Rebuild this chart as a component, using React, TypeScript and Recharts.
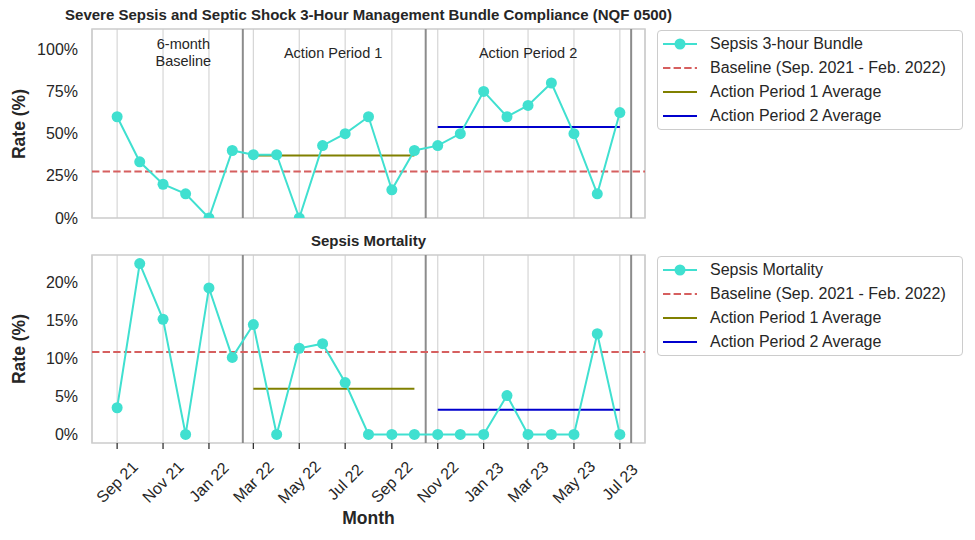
import React from "react";
import {
  LineChart,
  Line,
  XAxis,
  YAxis,
  CartesianGrid,
  ReferenceLine,
  ReferenceArea,
  ReferenceDot,
} from "recharts";

// monthly data, Sep 2021 - Jul 2023
const months = [
  "2021-09", "2021-10", "2021-11", "2021-12", "2022-01", "2022-02",
  "2022-03", "2022-04", "2022-05", "2022-06", "2022-07", "2022-08",
  "2022-09", "2022-10", "2022-11", "2022-12", "2023-01", "2023-02",
  "2023-03", "2023-04", "2023-05", "2023-06", "2023-07",
];
const tickMonths = [
  "2021-09", "2021-11", "2022-01", "2022-03", "2022-05", "2022-07",
  "2022-09", "2022-11", "2023-01", "2023-03", "2023-05", "2023-07",
];
const monthNames = ["Jan", "Feb", "Mar", "Apr", "May", "Jun", "Jul", "Aug", "Sep", "Oct", "Nov", "Dec"];

const bundleRates = [
  60, 33.3, 20, 14.3, 0, 40, 37.5, 37.5, 0, 42.9, 50, 60,
  16.7, 40, 42.9, 50, 75, 60, 66.7, 80, 50, 14.3, 62.5,
];
const mortalityRates = [
  3.5, 22.4, 15.1, 0, 19.2, 10.1, 14.4, 0, 11.3, 11.9, 6.8, 0,
  0, 0, 0, 0, 0, 5.1, 0, 0, 0, 13.2, 0,
];

// period averages
const bundleBaseline = 27.5;
const bundleAp1Avg = 37;
const bundleAp2Avg = 54;
const mortalityBaseline = 10.8;
const mortalityAp1Avg = 6.0;
const mortalityAp2Avg = 3.25;

const ap1Range = ["2022-03", "2022-10"];
const ap2Range = ["2022-11", "2023-07"];
const periodBreaks = ["2022-02-15", "2022-10-16", "2023-07-16"];
const periodLabelDates = ["2021-11-28", "2022-06-15", "2023-03-01"];
const periodLabelTexts = [["6-month", "Baseline"], ["Action Period 1"], ["Action Period 2"]];

const bundleTicks = [0, 25, 50, 75, 100];
const mortalityTicks = [0, 5, 10, 15, 20];

const legendLabels = [
  "Baseline (Sep. 2021 - Feb. 2022)",
  "Action Period 1 Average",
  "Action Period 2 Average",
];

const TURQ = "#40e0d0";
const RED = "#d65f5f";
const OLIVE = "#808000";
const BLUE = "#0000cd";
const TEXT = "#262626";
const FONT = '"Liberation Sans", Arial, sans-serif';

const toTime = (s: string) => {
  const [y, m, d] = s.split("-").map(Number);
  return Date.UTC(y, m - 1, d || 1);
};
const fmtMonth = (t: number) => {
  const d = new Date(t);
  return `${monthNames[d.getUTCMonth()]} ${String(d.getUTCFullYear()).slice(2)}`;
};

const tStart = toTime(months[0]);
const tEnd = toTime(months[months.length - 1]);
const tPad = (tEnd - tStart) * 0.05;
const xDomain = [tStart - tPad, tEnd + tPad];
const xTicks = tickMonths.map(toTime);

const bundleData = months.map((m, i) => ({ t: toTime(m), value: bundleRates[i] }));
const mortalityData = months.map((m, i) => ({ t: toTime(m), value: mortalityRates[i] }));

const mortMax = Math.max(...mortalityRates);
const bundleDomain = [0, 112];
const mortalityDomain = [-mortMax * 0.05, mortMax * 1.05];

const MonthTick = (props: any) => {
  const { x, y, payload } = props;
  const cy = y + 31;
  return (
    <text
      x={x}
      y={cy}
      textAnchor="middle"
      dominantBaseline="central"
      transform={`rotate(-45, ${x}, ${cy})`}
      fill={TEXT}
      fontSize={16}
      fontFamily={FONT}
    >
      {fmtMonth(payload.value)}
    </text>
  );
};

const NoTick = () => <g />;

interface PanelProps {
  data: { t: number; value: number }[];
  domain: number[];
  yTicks: number[];
  baseline: number;
  ap1: number;
  ap2: number;
  showLabels: boolean;
  showXAxis: boolean;
  height: number;
  top: number;
  marginTop: number;
  marginBottom: number;
}

function Panel(p: PanelProps) {
  return (
    <LineChart
      width={975}
      height={p.height}
      data={p.data}
      margin={{ top: p.marginTop, right: 330, bottom: p.marginBottom, left: 32 }}
      style={{ position: "absolute", left: 0, top: p.top }}
    >
      <CartesianGrid horizontal={false} stroke="#d6d6d6" strokeWidth={1.2} />
      <XAxis
        dataKey="t"
        type="number"
        scale="time"
        domain={xDomain}
        ticks={xTicks}
        allowDataOverflow
        axisLine={false}
        height={p.showXAxis ? 97 : 0}
        tick={p.showXAxis ? <MonthTick /> : <NoTick />}
        tickLine={p.showXAxis ? { stroke: "#333", strokeWidth: 1.3 } : false}
        tickSize={6}
        interval={0}
      />
      <YAxis
        type="number"
        domain={p.domain}
        ticks={p.yTicks}
        allowDataOverflow
        width={60}
        axisLine={false}
        tickLine={false}
        tickSize={0}
        tickMargin={14}
        tickFormatter={(v) => `${v}%`}
        tick={{ fill: TEXT, fontSize: 16, fontFamily: FONT }}
      />
      <ReferenceArea
        x1={xDomain[0]}
        x2={xDomain[1]}
        y1={p.domain[0]}
        y2={p.domain[1]}
        fill="none"
        stroke="#cccccc"
        strokeWidth={1.5}
        ifOverflow="visible"
      />
      {periodBreaks.map((d) => (
        <ReferenceLine key={d} x={toTime(d)} stroke="#8c8c8c" strokeWidth={2} />
      ))}
      <ReferenceLine y={p.baseline} stroke={RED} strokeWidth={2} strokeDasharray="7.4 3.2" />
      <ReferenceLine
        segment={[
          { x: toTime(ap1Range[0]), y: p.ap1 },
          { x: toTime(ap1Range[1]), y: p.ap1 },
        ]}
        stroke={OLIVE}
        strokeWidth={2}
      />
      <ReferenceLine
        segment={[
          { x: toTime(ap2Range[0]), y: p.ap2 },
          { x: toTime(ap2Range[1]), y: p.ap2 },
        ]}
        stroke={BLUE}
        strokeWidth={2}
      />
      {p.showLabels &&
        periodLabelDates.map((d, i) => (
          <ReferenceDot
            key={d}
            x={toTime(d)}
            y={98}
            r={0}
            shape={(s: any) => {
              const lines = periodLabelTexts[i];
              const gap = 16.5;
              const start = s.cx !== undefined ? s.cy - ((lines.length - 1) * gap) / 2 : 0;
              return (
                <text
                  x={s.cx}
                  y={start}
                  textAnchor="middle"
                  dominantBaseline="central"
                  fill={TEXT}
                  fontSize={14.5}
                  fontFamily={FONT}
                >
                  {lines.map((ln, j) => (
                    <tspan key={j} x={s.cx} y={start + j * gap}>
                      {ln}
                    </tspan>
                  ))}
                </text>
              );
            }}
          />
        ))}
      <Line
        dataKey="value"
        stroke={TURQ}
        strokeWidth={2}
        dot={{ r: 5.5, fill: TURQ, stroke: TURQ, strokeWidth: 0 }}
        activeDot={false}
        isAnimationActive={false}
      />
    </LineChart>
  );
}

function LegendBox({ top, first }: { top: number; first: string }) {
  const rows = [first, ...legendLabels];
  const colors = [TURQ, RED, OLIVE, BLUE];
  return (
    <div
      style={{
        position: "absolute",
        left: 657,
        top,
        width: 306,
        height: 100,
        border: "1px solid #cccccc",
        borderRadius: 4,
        boxSizing: "border-box",
        background: "white",
      }}
    >
      {rows.map((label, i) => (
        <div
          key={label}
          style={{ position: "absolute", left: 0, top: 1 + i * 24, height: 24, display: "flex", alignItems: "center" }}
        >
          <svg width={52} height={24} style={{ display: "block" }}>
            <line
              x1={5}
              x2={39}
              y1={12}
              y2={12}
              stroke={colors[i]}
              strokeWidth={2}
              strokeDasharray={i === 1 ? "7.4 3.2" : undefined}
            />
            {i === 0 && <circle cx={22} cy={12} r={5.5} fill={TURQ} />}
          </svg>
          <span style={{ fontSize: 16, color: TEXT, whiteSpace: "nowrap" }}>{label}</span>
        </div>
      ))}
    </div>
  );
}

const titleStyle: React.CSSProperties = {
  position: "absolute",
  left: 0,
  width: 737,
  textAlign: "center",
  fontWeight: "bold",
  fontSize: 15,
  color: TEXT,
  whiteSpace: "nowrap",
};

const yLabelStyle = (cy: number): React.CSSProperties => ({
  position: "absolute",
  left: 19 - 60,
  top: cy - 12,
  width: 120,
  height: 24,
  lineHeight: "24px",
  textAlign: "center",
  transform: "rotate(-90deg)",
  fontWeight: "bold",
  fontSize: 17.5,
  color: TEXT,
});

export default function App() {
  return (
    <div
      style={{
        position: "absolute",
        left: 0,
        top: 0,
        width: 975,
        height: 540,
        background: "white",
        fontFamily: FONT,
        overflow: "hidden",
      }}
    >
      <div style={{ ...titleStyle, top: 6 }}>
        Severe Sepsis and Septic Shock 3-Hour Management Bundle Compliance (NQF 0500)
      </div>
      <Panel
        data={bundleData}
        domain={bundleDomain}
        yTicks={bundleTicks}
        baseline={bundleBaseline}
        ap1={bundleAp1Avg}
        ap2={bundleAp2Avg}
        showLabels
        showXAxis={false}
        height={230}
        top={0}
        marginTop={29}
        marginBottom={12}
      />
      <div style={yLabelStyle(123.5)}>Rate (%)</div>
      <LegendBox top={30} first="Sepsis 3-hour Bundle" />

      <div style={{ ...titleStyle, top: 232 }}>Sepsis Mortality</div>
      <Panel
        data={mortalityData}
        domain={mortalityDomain}
        yTicks={mortalityTicks}
        baseline={mortalityBaseline}
        ap1={mortalityAp1Avg}
        ap2={mortalityAp2Avg}
        showLabels={false}
        showXAxis
        height={310}
        top={230}
        marginTop={25}
        marginBottom={0}
      />
      <div style={yLabelStyle(349)}>Rate (%)</div>
      <LegendBox top={256} first="Sepsis Mortality" />

      <div
        style={{
          position: "absolute",
          left: 92,
          width: 553,
          top: 508,
          textAlign: "center",
          fontWeight: "bold",
          fontSize: 17.5,
          color: TEXT,
        }}
      >
        Month
      </div>
    </div>
  );
}
